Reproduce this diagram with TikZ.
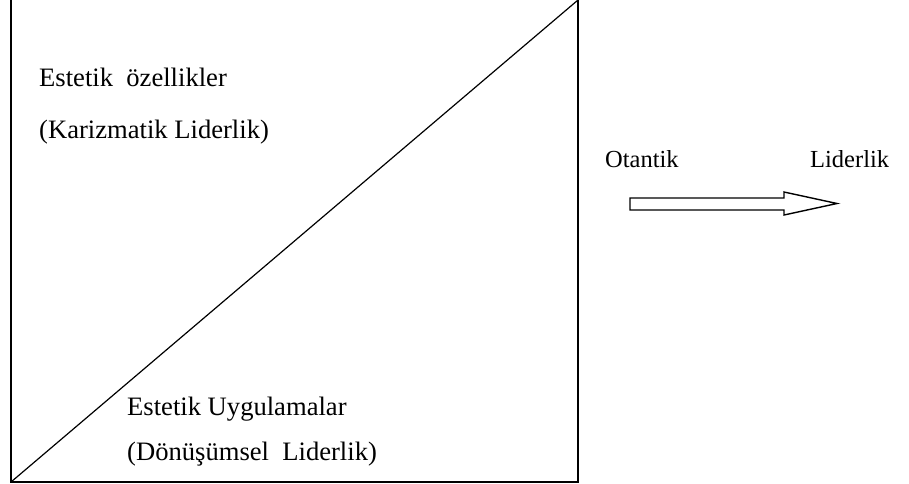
\documentclass[tikz,border=0pt]{standalone}
\usepackage{fontspec}
\setmainfont{Liberation Serif}
\begin{document}
\begin{tikzpicture}[x=1pt,y=-1pt,
  lbl/.style={anchor=base west,inner sep=0pt,font=\fontsize{26.6}{30}\selectfont},
  lblr/.style={anchor=base west,inner sep=0pt,font=\fontsize{24.5}{28}\selectfont},
  frame/.style={line width=2.2pt},
  diag/.style={line width=1.2pt}]
\useasboundingbox (0,0) rectangle (909,483);
\coordinate (tl) at (11,-2);
\coordinate (bl) at (11,482);
\coordinate (br) at (578,482);
\coordinate (tr) at (578,-2);
\draw[frame] (tl) -- (bl) -- (br) -- (tr);
\draw[diag] (bl) -- (578,0);
\node[lbl] (a) at (39,86) {Estetik\ \ özellikler};
\node[lbl] (b) at (39,138) {(Karizmatik Liderlik)};
\node[lbl] (c) at (127,415) {Estetik Uygulamalar};
\node[lbl] (d) at (127,460) {(Dönüşümsel\ \ Liderlik)};
\node[lblr] (e) at (605,167) {Otantik};
\node[lblr] (f) at (810,167) {Liderlik};
\draw[line width=1.4pt,line join=miter,fill=white] (630,198) -- (784,198) -- (784,192) -- (837,203.5) -- (784,215) -- (784,210) -- (630,210) -- cycle;
\end{tikzpicture}
\end{document}
